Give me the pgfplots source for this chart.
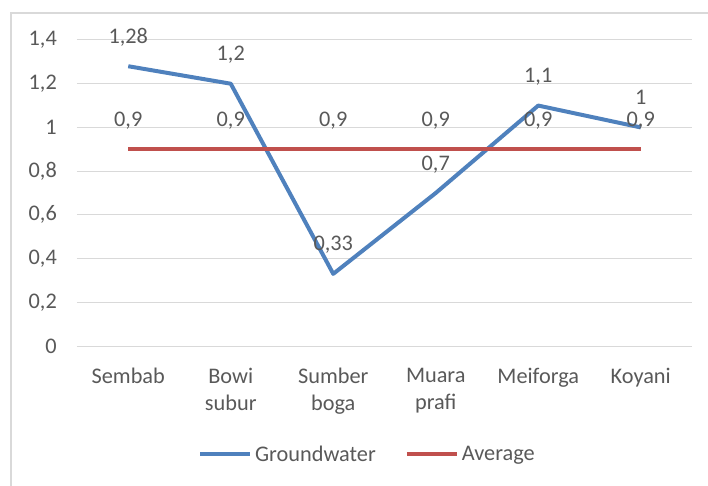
\documentclass[border=0pt]{standalone}
\usepackage{pgfplots}
\pgfplotsset{compat=1.18}
\usepackage{fontspec}
\setmainfont{Carlito}

\definecolor{gwblue}{HTML}{4F81BD}
\definecolor{avgred}{HTML}{C0504D}
\definecolor{txtgray}{HTML}{595959}
\definecolor{gridgray}{HTML}{D9D9D9}

\newcommand{\chartfont}{\fontsize{22.3bp}{27bp}\selectfont}

\begin{document}
\begin{tikzpicture}
\begin{axis}[
    scale only axis,
    width=615bp, height=306bp,
    xmin=-0.5, xmax=5.5,
    ymin=0, ymax=1.4,
    xtick={0,1,2,3,4,5},
    xticklabels={Sembab,{Bowi\\subur},{Sumber\\boga},{Muara\\prafi},Meiforga,Koyani},
    ytick={0,0.2,0.4,0.6,0.8,1,1.2,1.4},
    ymajorgrids=true,
    grid style={gridgray, line width=1bp},
    axis line style={draw=none},
    major tick length=0pt,
    tick label style={font=\chartfont, text=txtgray},
    xticklabel style={align=center, anchor=north, inner sep=0pt, yshift=-22bp},
    yticklabel style={anchor=east, inner sep=0pt, xshift=-20bp},
    /pgf/number format/use comma,
    /pgf/number format/assume math mode=true,
    /pgf/number format/precision=2,
    nodes near coords,
    every node near coord/.append style={font=\chartfont, text=txtgray,
        anchor=base, inner sep=0pt, yshift=23bp},
    legend columns=2,
    legend style={draw=none, fill=none, at={(0.473,-0.353)}, anchor=center,
        font=\chartfont, text=txtgray,
        /tikz/every even column/.append style={column sep=26bp},
        nodes={inner sep=3bp}},
    legend image code/.code={\draw[#1] (0bp,0bp) -- (50bp,0bp);},
]
\addplot[gwblue, line width=4bp, line join=round] coordinates {
    (0,1.28) (1,1.2) (2,0.33) (3,0.7) (4,1.1) (5,1)
};
\addlegendentry{Groundwater}
\addplot[avgred, line width=4bp] coordinates {
    (0,0.9) (1,0.9) (2,0.9) (3,0.9) (4,0.9) (5,0.9)
};
\addlegendentry{Average}
\end{axis}
\draw[gridgray, line width=1.5bp] (-66bp,-150bp) -- (-66bp,333bp) -- (640bp,333bp);
\pgfresetboundingbox
\path[use as bounding box] (-77bp,-140bp) rectangle (631bp,346bp);
\end{tikzpicture}
\end{document}
